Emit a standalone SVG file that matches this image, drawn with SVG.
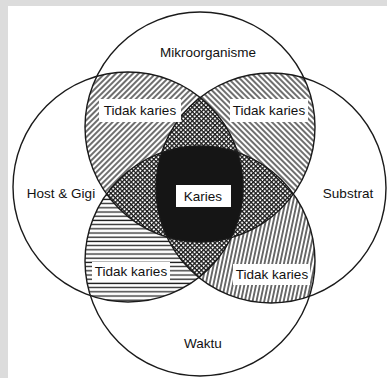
<svg xmlns="http://www.w3.org/2000/svg" width="387" height="378" viewBox="0 0 387 378">
  <style>
    .ring { fill: none; stroke: #1a1a1a; stroke-width: 1.4; }
    .lbl { font-family: "Liberation Sans", Arial, sans-serif; font-size: 13.5px; fill: #111; text-anchor: middle; }
    .hl { stroke: #222; stroke-width: 1.3; }
    .clear { fill: #fff; }
  </style>
  <defs>
    <clipPath id="cT"><circle cx="200" cy="127" r="115"/></clipPath>
    <clipPath id="cB"><circle cx="200" cy="261" r="115"/></clipPath>
    <clipPath id="cL"><circle cx="128" cy="187" r="115"/></clipPath>
    <clipPath id="cR"><circle cx="271" cy="188" r="115"/></clipPath>
    <pattern id="pSlash" width="4" height="4" patternUnits="userSpaceOnUse" patternTransform="rotate(45)">
      <rect width="4" height="4" fill="#fff"/>
      <line x1="2" y1="0" x2="2" y2="4" class="hl"/>
    </pattern>
    <pattern id="pBack" width="4" height="4" patternUnits="userSpaceOnUse" patternTransform="rotate(-45)">
      <rect width="4" height="4" fill="#fff"/>
      <line x1="2" y1="0" x2="2" y2="4" class="hl"/>
    </pattern>
    <pattern id="pHoriz" width="4" height="4.2" patternUnits="userSpaceOnUse">
      <rect width="4" height="4.2" fill="#fff"/>
      <line x1="0" y1="2" x2="4" y2="2" class="hl"/>
    </pattern>
    <pattern id="pVert" width="3.8" height="4" patternUnits="userSpaceOnUse" patternTransform="rotate(12)">
      <rect width="3.8" height="4" fill="#fff"/>
      <line x1="1.9" y1="0" x2="1.9" y2="4" class="hl"/>
    </pattern>
    <pattern id="pCross" width="3.2" height="3.2" patternUnits="userSpaceOnUse" patternTransform="rotate(45)">
      <rect width="3.2" height="3.2" fill="#fff"/>
      <line x1="0" y1="0.6" x2="3.2" y2="0.6" stroke="#1a1a1a" stroke-width="1.4"/>
      <line x1="0.6" y1="0" x2="0.6" y2="3.2" stroke="#1a1a1a" stroke-width="1.4"/>
    </pattern>
  </defs>

  <rect width="387" height="378" fill="#dcdcdc"/>
  <rect x="8" y="6" width="379" height="372" fill="#fff"/>

  <g id="regions">
    <g clip-path="url(#cT)"><circle cx="128" cy="187" r="115" fill="url(#pSlash)"/></g>
    <g clip-path="url(#cT)"><circle cx="271" cy="188" r="115" fill="url(#pBack)"/></g>
    <g clip-path="url(#cB)"><circle cx="128" cy="187" r="115" fill="url(#pHoriz)"/></g>
    <g clip-path="url(#cB)"><circle cx="271" cy="188" r="115" fill="url(#pVert)"/></g>
    <g clip-path="url(#cL)"><circle cx="271" cy="188" r="115" fill="url(#pCross)"/></g>
    <g clip-path="url(#cT)"><circle cx="200" cy="261" r="115" fill="url(#pCross)"/></g>
    <g clip-path="url(#cT)"><g clip-path="url(#cB)"><g clip-path="url(#cL)"><circle cx="271" cy="188" r="115" fill="#151515"/></g></g></g>
  </g>

  <g id="node-mikroorganisme">
    <circle class="ring" cx="200" cy="127" r="115"/>
    <text class="lbl" x="208" y="57">Mikroorganisme</text>
  </g>
  <g id="node-host">
    <circle class="ring" cx="128" cy="187" r="115"/>
    <text class="lbl" x="61" y="198">Host &amp; Gigi</text>
  </g>
  <g id="node-substrat">
    <circle class="ring" cx="271" cy="188" r="115"/>
    <text class="lbl" x="348" y="198">Substrat</text>
  </g>
  <g id="node-waktu">
    <circle class="ring" cx="200" cy="261" r="115"/>
    <text class="lbl" x="203" y="348">Waktu</text>
  </g>

  <g id="label-tl">
    <rect class="clear" x="99" y="99" width="82" height="23"/>
    <text class="lbl" x="140" y="115">Tidak karies</text>
  </g>
  <g id="label-tr">
    <rect class="clear" x="230" y="99" width="78" height="23"/>
    <text class="lbl" x="269" y="115">Tidak karies</text>
  </g>
  <g id="label-bl">
    <rect class="clear" x="92" y="262" width="78" height="20"/>
    <text class="lbl" x="131" y="276">Tidak karies</text>
  </g>
  <g id="label-br">
    <rect class="clear" x="233" y="264" width="77" height="21"/>
    <text class="lbl" x="272" y="279">Tidak karies</text>
  </g>
  <g id="label-karies">
    <rect class="clear" x="176" y="185" width="55" height="22"/>
    <text class="lbl" x="203" y="201">Karies</text>
  </g>
</svg>
